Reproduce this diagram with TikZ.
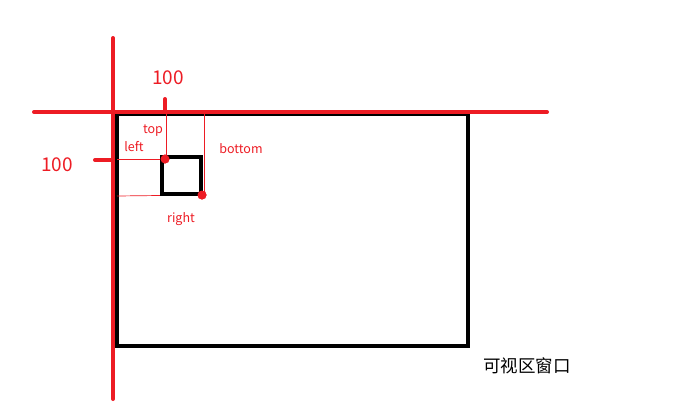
\documentclass[tikz,border=0pt]{standalone}
\usepackage{fontspec}
\setmainfont{Noto Sans CJK SC}
\definecolor{pred}{HTML}{ED1C24}
\tikzset{
  axis/.style={draw=pred, line width=4pt, line cap=round},
  thin/.style={draw=pred, line width=0.7pt},
  frame/.style={draw=black, line width=4pt},
  dot/.style={circle, fill=pred, inner sep=0pt, minimum size=9pt},
  lbl/.style={text=pred, font=\fontsize{12.5}{14}\selectfont, inner sep=0pt},
  num/.style={text=pred, font=\fontsize{19}{21}\selectfont, inner sep=0pt},
}
\begin{document}
\begin{tikzpicture}[x=1pt,y=-1pt]
\useasboundingbox (0,0) rectangle (682,418);
% black window frame
\draw[frame] (117,114) rectangle (468,346);
% thin guide lines
\coordinate (tA) at (166,114);
\coordinate (tB) at (204,114);
\coordinate (lA) at (117,159);
\coordinate (lB) at (117,196);
\node[dot] (d1) at (165,159) {};
\node[dot] (d2) at (202,195) {};
\draw[thin] (tA) -- (166,159);
\draw[thin] (tB) -- (204,195);
\draw[thin] (lA) -- (d1.center);
\draw[thin] (lB) -- (d2.center);
% small element
\draw[frame] (162,157) rectangle (201,194);
\node[dot] at (165,159) {};
\node[dot] at (202,195) {};
% red axes
\coordinate (vT) at (113,38);
\coordinate (vB) at (113,399);
\coordinate (hL) at (34,112);
\coordinate (hR) at (547,112);
\draw[axis] (vT) -- (vB);
\draw[axis] (hL) -- (hR);
\coordinate (tk1) at (165,99);
\coordinate (tk1b) at (165,112);
\coordinate (tk2) at (95,160);
\coordinate (tk2b) at (113,160);
\draw[axis] (tk1) -- (tk1b);
\draw[axis] (tk2) -- (tk2b);
% labels
\node[num] (n1) at (168,78) {100};
\node[num] (n2) at (57,165) {100};
\node[lbl] (top) at (153,131) {top};
\node[lbl] (left) at (134,147) {left};
\node[lbl] (bottom) at (241,149) {bottom};
\node[lbl] (right) at (181,219) {right};
\node[font=\fontsize{17.5}{19}\selectfont, inner sep=0pt] (win) at (527,366) {可视区窗口};
\end{tikzpicture}
\end{document}
